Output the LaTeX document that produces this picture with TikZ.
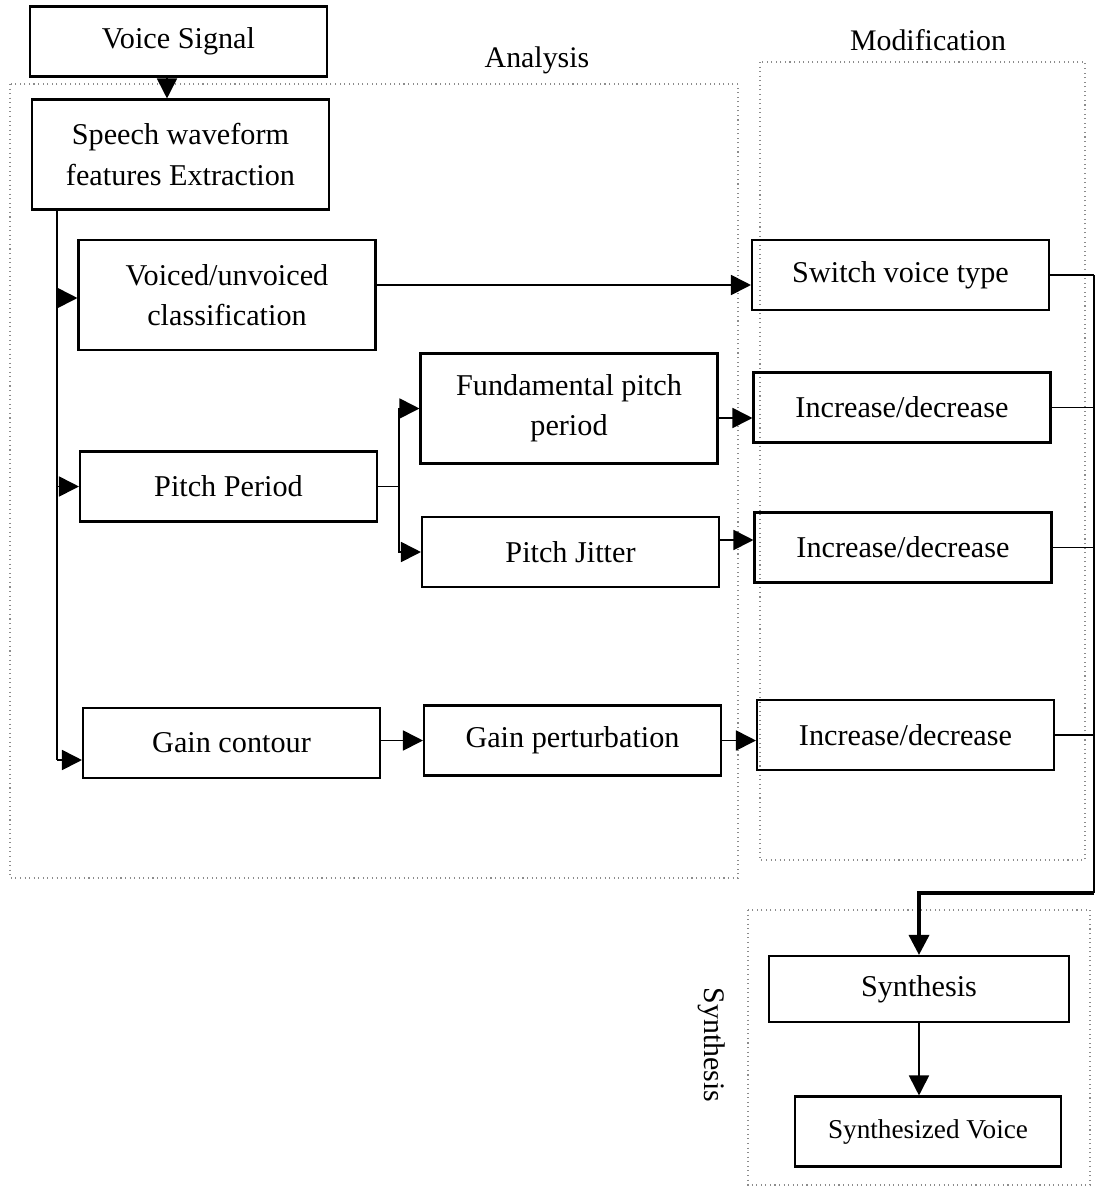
\documentclass[tikz,border=0pt]{standalone}
\usepackage{fontspec}
\setmainfont{Liberation Serif}
\usetikzlibrary{arrows.meta}
\tikzset{
	box/.style={draw, line width=1.2pt, minimum width=5.94cm, minimum height=1.4cm, align=center, inner sep=2pt, font=\fontsize{17.2}{23}\selectfont},
	tallbox/.style={box, minimum height=2.2cm},
	arr/.style={line width=1pt, -{Triangle[length=0.4cm, width=0.4cm]}},
	wire/.style={line width=1pt},
	region/.style={draw=black!45, line width=0.6pt, dotted},
	title/.style={font=\fontsize{17}{20}\selectfont}
}

\begin{document}
\begin{tikzpicture}[x=0.02cm, y=-0.02cm]
		%%%%% START %%%%%
		\useasboundingbox (0, 0) rectangle (1096, 1191);
		
		\draw[region] (10, 84) rectangle (738, 878);
		\draw[region] (760, 62) rectangle (1085, 860);
		\draw[region] (748, 910) rectangle (1090, 1185);
		
		\node[title] (analysis) at (537, 60) {Analysis};
		\node[title] (modif) at (928, 40) {Modification};
		\node[title, rotate=-90] (synlabel) at (712, 1045) {Synthesis};
		
		\node[box] (voice) at (178.5, 41.5) {Voice Signal};
		\node[tallbox] (extract) at (180.5, 154.5) {Speech waveform\\features Extraction};
		
		\node[tallbox] (voiced) at (227, 295) {Voiced/unvoiced\\classification};
		\node[box] (pitch) at (228.5, 486.5) {Pitch Period};
		\node[box] (gain) at (231.5, 743) {Gain contour};
		
		\node[tallbox] (fund) at (569, 408.5) {Fundamental pitch\\period};
		\node[box] (jitter) at (570.5, 552) {Pitch Jitter};
		\node[box] (gainp) at (572.5, 740.5) {Gain perturbation};
		
		\node[box] (switch) at (900.5, 275) {Switch voice type};
		\node[box] (incA) at (902, 407.5) {Increase/decrease};
		\node[box] (incB) at (903, 547.5) {Increase/decrease};
		\node[box] (incC) at (905.5, 735) {Increase/decrease};
		
		\node[box, minimum width=6cm, minimum height=1.32cm] (synth) at (919, 989) {Synthesis};
		\node[box, minimum width=5.32cm, font=\fontsize{15.5}{20}\selectfont] (synthv) at (928, 1131.5) {Synthesized Voice};
		
		\coordinate (trunk) at (57, 0);
		\coordinate (fork) at (399, 0);
		\coordinate (bus) at (1094, 0);
		\coordinate (join) at (1094, 893);
		
		\draw[arr] (voice.south -| 167, 0) -- (extract.north -| 167, 0);
		\draw[wire] (extract.south -| trunk) -- (trunk |- 0, 760);
		\draw[arr] (trunk |- 0, 298) -- (voiced.west |- 0, 298);
		\draw[arr] (trunk |- pitch) -- (pitch.west);
		\draw[arr] (trunk |- 0, 760) -- (gain.west |- 0, 760);
		
		\draw[wire] (pitch.east) -- (fork |- pitch);
		\draw[arr] (fork |- pitch) |- (fund.west);
		\draw[arr] (fork |- pitch) |- (jitter.west);
		\draw[arr] (gain.east |- gainp) -- (gainp.west);
		
		\draw[arr] (voiced.east |- 0, 285) -- (switch.west |- 0, 285);
		\draw[arr] (fund.east |- 0, 418) -- (incA.west |- 0, 418);
		\draw[arr] (jitter.east |- 0, 540) -- (incB.west |- 0, 540);
		\draw[arr] (gainp.east) -- (gainp.east -| incC.west);
		
		\draw[wire] (switch.east) -- (switch.east -| bus);
		\draw[wire] (incA.east) -- (incA.east -| bus);
		\draw[wire] (incB.east) -- (incB.east -| bus);
		\draw[wire] (incC.east) -- (incC.east -| bus);
		\draw[wire] (switch.east -| bus) -- (join);
		\draw[arr, line width=2pt] (join) -| (synth.north);
		\draw[arr] (synth.south) -- (synthv.north -| synth.south);
		%%%%% END %%%%%
\end{tikzpicture}
\end{document}
